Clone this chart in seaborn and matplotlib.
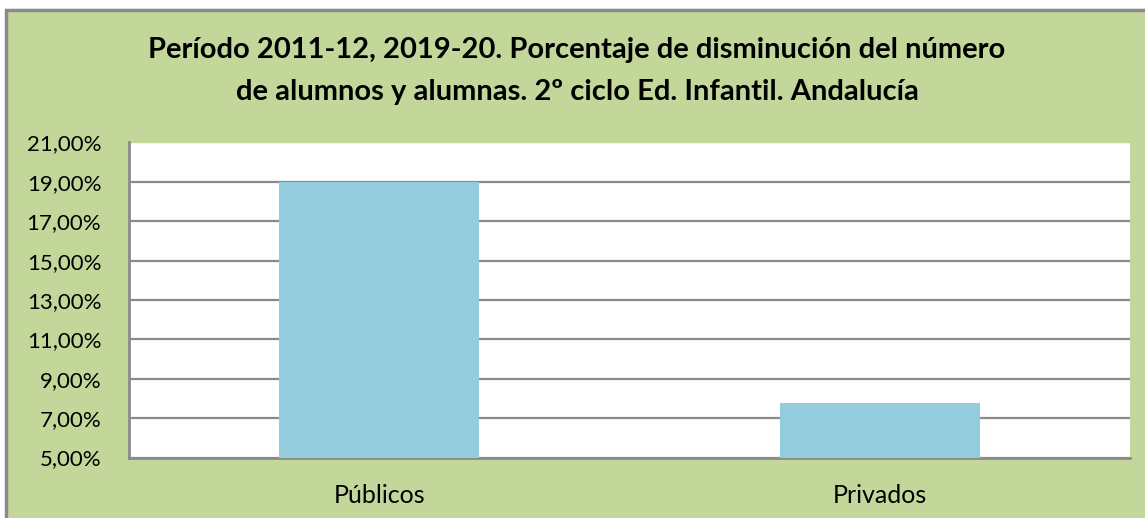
import matplotlib
matplotlib.use("Agg")
import matplotlib.pyplot as plt
from matplotlib.patches import Rectangle
from matplotlib.ticker import FuncFormatter, MultipleLocator
import pandas as pd
import seaborn as sns

# ------------------------------------------------------------
# Data
# ------------------------------------------------------------
categorias = ["Públicos", "Privados"]
disminucion = [0.1900, 0.0778]

TITULO = ("Período 2011-12, 2019-20. Porcentaje de disminución del número\n"
          "de alumnos y alumnas. 2º ciclo Ed. Infantil. Andalucía")

VERDE = "#C4D79B"
AZUL = "#93CDDD"
GRIS = "#8A8A8A"

sns.set_style("white")
plt.rcParams["font.family"] = ["Lato", "DejaVu Sans"]

df = pd.DataFrame({"tipo": categorias, "valor": disminucion})

W, H = 1145, 518
fig = plt.figure(figsize=(W / 100, H / 100), dpi=100, facecolor="white")

# green chart area with grey border
fig.patches.append(Rectangle((6 / W, -0.1), 1.2, (H - 10) / H + 0.1,
                             transform=fig.transFigure, facecolor=VERDE,
                             edgecolor=GRIS, linewidth=2.5, zorder=-5))

ax = fig.add_axes([129 / W, (H - 457.5) / H, 1001 / W, 315 / H])
ax.set_facecolor("white")

sns.barplot(data=df, x="tipo", y="valor", color=AZUL, saturation=1,
            width=0.4, ax=ax, zorder=3)
for p in ax.patches:
    p.set_edgecolor("none")

ax.set_ylim(0.05, 0.21)
ax.set_xlim(-0.5, 1.5)
ax.yaxis.set_major_locator(MultipleLocator(0.02, offset=0.01))
ax.yaxis.set_major_formatter(FuncFormatter(lambda v, _: f"{v*100:.2f}%".replace(".", ",")))
ax.grid(axis="y", color=GRIS, linewidth=1.6, zorder=0)
ax.set_axisbelow(True)

for s in ["top", "right"]:
    ax.spines[s].set_visible(False)
for s in ["left", "bottom"]:
    ax.spines[s].set_color(GRIS)
    ax.spines[s].set_linewidth(2)

ax.tick_params(axis="y", length=0, pad=20, labelsize=16, labelcolor="black")
ax.tick_params(axis="x", length=0, pad=19, labelsize=18, labelcolor="black")
ax.set_xlabel("")
ax.set_ylabel("")

fig.text(577 / W, 1 - 71 / H, TITULO, ha="center", va="center",
         fontsize=21, fontweight="bold", linespacing=1.72, color="black")

fig.savefig("out.png", dpi=100, facecolor=fig.get_facecolor())
